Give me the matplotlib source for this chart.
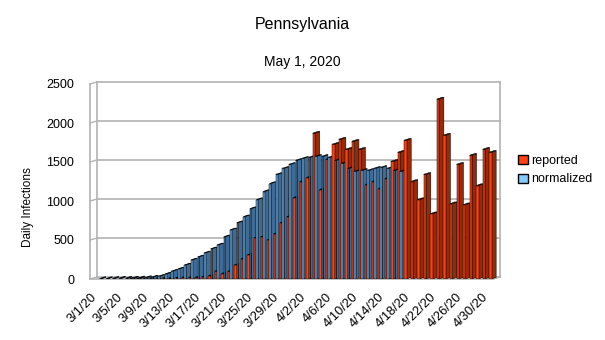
"""
Pennsylvania daily infections, reported vs normalized (3D-style columns)
"""

import numpy as np
import pandas as pd
import matplotlib

matplotlib.use("Agg")
import matplotlib.pyplot as plt
from matplotlib.collections import PolyCollection
from matplotlib.patches import Patch
from matplotlib.transforms import ScaledTranslation

plt.rcParams["font.family"] = ["Liberation Sans", "DejaVu Sans"]

# data
dates = pd.date_range("2020-03-01", "2020-04-30")
labels = [f"{d.month}/{d.day}/20" for d in dates]
reported = [0, 0, 0, 0, 0, 2, 2, 3, 5, 5, 7, 10, 15, 20, 20,
            20, 30, 40, 100, 70, 100, 180, 258, 310, 528,
            541, 502, 580, 722, 799, 1044, 1250, 1301, 1869, 1147,
            1533, 1727, 1791, 1662, 1765, 1662, 1211, 1250, 1160, 1288,
            1508, 1624, 1778, 1250, 1018, 1340, 838, 2306, 1843, 966,
            1469, 953, 1585, 1198, 1662, 1624]
normalized = [5, 5, 8, 10, 10, 12, 15, 18, 25, 35,
              64, 100, 130, 180, 245, 283, 335, 387, 438, 541,
              631, 722, 799, 902, 1018, 1121, 1224, 1340, 1418, 1469,
              1520, 1546, 1559, 1572, 1572, 1559, 1520, 1482, 1418, 1379,
              1392, 1392, 1418, 1430, 1418, 1392, 1379]
normalized = normalized + [np.nan] * (len(dates) - len(normalized))

# colours: front (lit), side (shaded), top
col_rep = ("#ff420e", "#962a09", "#5e1a05")
col_norm = ("#6aa6da", "#3e6c97", "#2b4a68")


def box(x0, v, wf, ws, dy):
    """faces of one fake 3D column: side, front, top"""
    side = [(x0 + wf, 0), (x0 + wf + ws, dy), (x0 + wf + ws, v + dy), (x0 + wf, v)]
    front = [(x0, 0), (x0 + wf, 0), (x0 + wf, v), (x0, v)]
    top = [(x0, v), (x0 + wf, v), (x0 + wf + ws, v + dy), (x0 + ws, v + dy)]
    return [side, front, top]


def grouped3d(ax, x, series, colors, wf=(0.36, 0.25), ws=0.7, dy=22):
    """grouped columns, drawn left to right so later ones hide side faces"""
    polys, fcs = [], []
    for i, xi in enumerate(x):
        x0 = xi - 0.45
        for k, (vals, cols) in enumerate(zip(series, colors)):
            v = vals[i]
            if np.isfinite(v) and v > 0:
                polys += box(x0, v, wf[k], ws, dy)
                fcs += [cols[1], cols[0], cols[2]]
            x0 += wf[k]
    ax.add_collection(PolyCollection(polys, facecolors=fcs, edgecolors="black",
                                     linewidths=0.35, zorder=3))


fig = plt.figure(figsize=(6.05, 3.4), dpi=100)
ax = fig.add_axes([90 / 605, 1 - 279 / 340, 410 / 605, (279 - 84) / 340])
x = np.arange(len(dates))
ax.set_xlim(-1.55, 61.2)
ax.set_ylim(0, 2500)
for s in ax.spines.values():
    s.set_visible(False)

# walls
gc = "#b3b3b3"
wx = 7 / 410
dyw = 2 * 2500 / 195
yt = ax.get_yaxis_transform()
for v in range(0, 2501, 500):
    ax.plot([wx, 1], [v + dyw] * 2, color=gc, lw=1.2, transform=yt, clip_on=False, zorder=1)
    ax.plot([0, wx], [v, v + dyw], color=gc, lw=1.0, transform=yt, clip_on=False, zorder=1)
ax.plot([0, 0], [0, 2500], color=gc, lw=1.2, transform=yt, clip_on=False)
ax.plot([wx, wx], [dyw, 2500 + dyw], color=gc, lw=1.2, transform=yt, clip_on=False)
ax.plot([1, 1], [dyw, 2500 + dyw], color=gc, lw=1.2, transform=yt, clip_on=False)
ax.plot([0, 1 - wx, 1], [0, 0, dyw], color=gc, lw=1.2, transform=yt, clip_on=False)

grouped3d(ax, x, [np.array(reported, float), np.array(normalized, float)],
          [col_rep, col_norm])

ax.set_yticks(range(0, 2501, 500))
ax.tick_params(axis="y", left=False, pad=8, labelsize=9)
ax.set_xticks(x[::4])
ax.set_xticklabels(labels[::4], rotation=45, ha="right", va="top",
                   rotation_mode="anchor", fontsize=9.3)
ax.tick_params(axis="x", bottom=False, pad=5)
for t in ax.get_xticklabels():
    t.set_transform(t.get_transform() + ScaledTranslation(-7 / 72, 0, fig.dpi_scale_trans))

fig.text(0.5, 1 - 24 / 340, "Pennsylvania", ha="center", va="center", fontsize=11.5)
fig.text(0.5, 1 - 62 / 340, "May 1, 2020", ha="center", va="center", fontsize=10)
fig.text(28 / 605, 1 - 207 / 340, "Daily Infections", rotation=90,
         ha="center", va="center", fontsize=8.5)

handles = [Patch(facecolor="#ff420e", edgecolor="black"),
           Patch(facecolor="#83caff", edgecolor="black")]
fig.legend(handles, ["reported", "normalized"], loc="center left",
           bbox_to_anchor=(507 / 605, 1 - 170 / 340), frameon=False,
           handlelength=0.75, handleheight=0.75, handletextpad=0.25,
           labelspacing=0.55, fontsize=9)

fig.savefig("out.png", dpi=100)
